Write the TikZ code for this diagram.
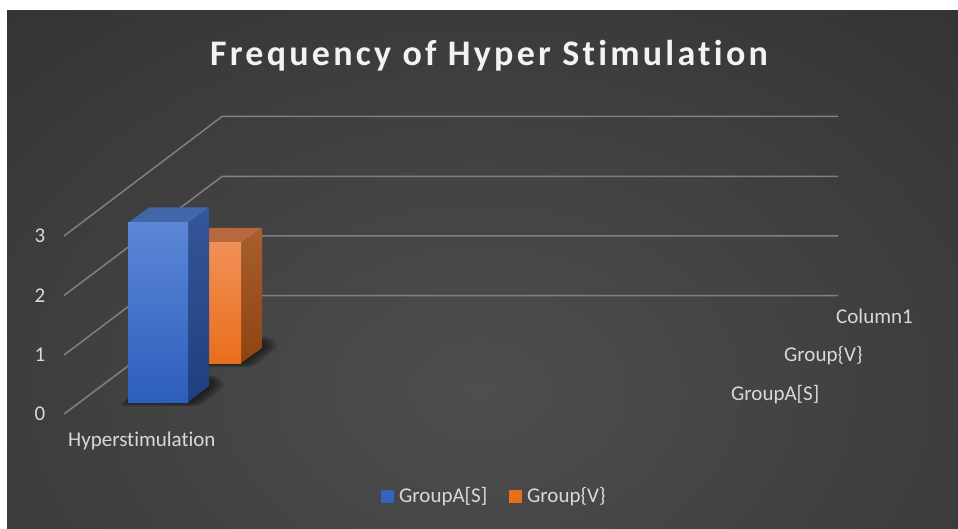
\documentclass[tikz,border=0pt]{standalone}
\usepackage{fontspec}
\setmainfont{Carlito}[Ligatures=NoCommon]
\newfontfamily\titlefont{Carlito}[LetterSpace=9,Ligatures=NoCommon]
\definecolor{bgin}{HTML}{4E4E4E}
\definecolor{bgout}{HTML}{242424}
\definecolor{gridc}{HTML}{808080}
\definecolor{labc}{HTML}{D9D9D9}
\definecolor{titc}{HTML}{F2F2F2}
\definecolor{bfront1}{HTML}{5B87D6}
\definecolor{bfront2}{HTML}{2D5EBD}
\definecolor{btop}{HTML}{4366A9}
\definecolor{bside1}{HTML}{34569A}
\definecolor{bside2}{HTML}{1F3F7E}
\definecolor{ofront1}{HTML}{F29057}
\definecolor{ofront2}{HTML}{E86E1A}
\definecolor{otop}{HTML}{B7693D}
\definecolor{oside1}{HTML}{A85E2E}
\definecolor{oside2}{HTML}{8C4511}
\tikzset{
  gridline/.style={draw=gridc, line width=1.5pt},
  axlab/.style={text=labc, font=\fontsize{21}{24}\selectfont, inner sep=0pt},
  leglab/.style={text=labc, font=\fontsize{21}{24}\selectfont, inner sep=0pt, anchor=west},
  shadowlayer/.style={fill=black, opacity=0.18},
}
\begin{document}
\begin{tikzpicture}[x=1pt,y=-1pt]
\useasboundingbox (0,0) rectangle (958,529);
\fill[white] (0,0) rectangle (958,529);
\begin{scope}
  \clip (7,11) rectangle (958,529);
  \shade[inner color=bgin, outer color=bgout] (480,390) ellipse [x radius=1150, y radius=820];
\end{scope}

% title
\node (title) [text=titc, font=\titlefont\bfseries\fontsize{36}{42}\selectfont, inner sep=0pt] at (489,56) {Frequency of Hyper Stimulation};

% grid
\foreach \k/\yl/\yb in {0/414/295.5, 1/355/236, 2/295.5/176.5, 3/236/116.5} {
  \coordinate (gl\k) at (64,\yl);
  \coordinate (gb\k) at (222,\yb);
  \coordinate (ge\k) at (838,\yb);
  \draw[gridline] (gl\k) -- (gb\k) -- (ge\k);
}

% shadows
\foreach \e in {10,7,4,1} {
  \fill[shadowlayer, rounded corners=6pt] (128-\e,402+0.4*\e) -- (190+\e,402+0.4*\e) -- (212+1.4*\e,385) -- (205+\e,378-0.3*\e) -- (150,380) -- cycle;
  \fill[shadowlayer, rounded corners=6pt] (181-0.5*\e,363+0.4*\e) -- (243+\e,363+0.4*\e) -- (265+1.4*\e,346) -- (258+\e,339-0.3*\e) -- (200,341) -- cycle;
}

% orange bar (behind)
\coordinate (ofl) at (181,363);
\coordinate (ofr) at (241,363);
\coordinate (otl) at (181,243);
\coordinate (otr) at (241,243);
\coordinate (obl) at (202,228);
\coordinate (obr) at (262,228);
\coordinate (obb) at (262,348);
\fill[otop] (otl) -- (otr) -- (obr) -- (obl) -- cycle;
\shade[top color=oside1, bottom color=oside2] (otr) -- (obr) -- (obb) -- (ofr) -- cycle;
\shade[top color=ofront1, bottom color=ofront2] (otl) rectangle (ofr);

% blue bar (front)
\coordinate (bfl) at (128,402);
\coordinate (bfr) at (188,402);
\coordinate (btl) at (128,223);
\coordinate (btr) at (188,223);
\coordinate (bbl) at (149,207.5);
\coordinate (bbr) at (209,207.5);
\coordinate (bbb) at (209,386);
\fill[btop] (btl) -- (btr) -- (bbr) -- (bbl) -- cycle;
\shade[top color=bside1, bottom color=bside2] (btr) -- (bbr) -- (bbb) -- (bfr) -- cycle;
\shade[top color=bfront1, bottom color=bfront2] (btl) rectangle (bfr);

% axis labels
\node (v3) [axlab] at (40,236) {3};
\node (v2) [axlab] at (40,295.5) {2};
\node (v1) [axlab] at (40,355) {1};
\node (v0) [axlab] at (40,414) {0};
\node (cat) [axlab, anchor=west] at (68,441) {Hyperstimulation};
\node (s3) [axlab, anchor=west] at (836,316) {Column1};
\node (s2) [axlab, anchor=west] at (784,356) {Group\{V\}};
\node (s1) [axlab, anchor=west] at (731,395) {GroupA[S]};

% legend
\fill[bfront2!85!bfront1] (381,490) rectangle (394,503);
\node (l1) [leglab] at (399,496.5) {GroupA[S]};
\fill[ofront2] (509,490) rectangle (522,503);
\node (l2) [leglab] at (527,496.5) {Group\{V\}};
\end{tikzpicture}
\end{document}
